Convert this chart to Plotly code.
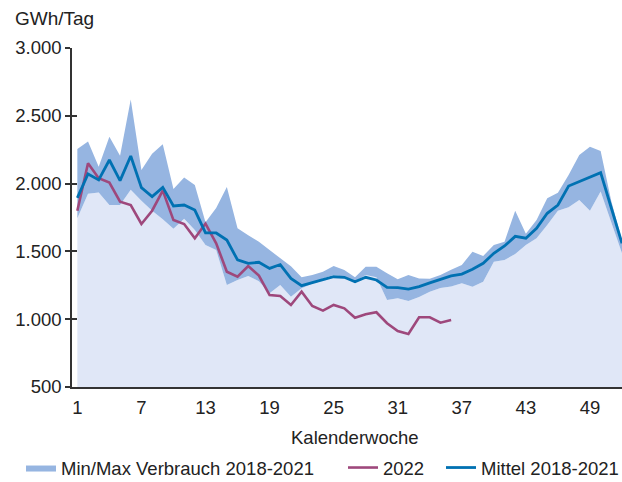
import plotly.graph_objects as go

weeks = list(range(1, 53))
min_vals = [1744, 1925, 1935, 1842, 1842, 1955, 1873, 1800, 1738, 1667,
            1740, 1658, 1547, 1510, 1252, 1289, 1318, 1280, 1191, 1252,
            1166, 1228, 1262, 1301, 1326, 1313, 1276, 1326, 1309, 1142,
            1154, 1135, 1163, 1203, 1230, 1242, 1265, 1240, 1276, 1424,
            1437, 1480, 1547, 1597, 1695, 1800, 1825, 1879, 1800, 1941,
            1713, 1486]
max_vals = [2255, 2310, 2125, 2345, 2205, 2620, 2100, 2220, 2290, 1960,
            2045, 1990, 1715, 1820, 1975, 1670, 1620, 1572, 1510, 1450,
            1390, 1310, 1326, 1350, 1392, 1363, 1309, 1387, 1387, 1338,
            1294, 1326, 1301, 1298, 1326, 1365, 1400, 1498, 1466, 1547,
            1572, 1800, 1630, 1731, 1892, 1933, 2063, 2211, 2272, 2240,
            1870, 1580]
mean_vals = [1895, 2071, 2027, 2174, 2022, 2204, 1970, 1904, 1972, 1835,
             1842, 1805, 1636, 1636, 1584, 1437, 1412, 1420, 1375, 1403,
             1301, 1247, 1270, 1289, 1313, 1309, 1276, 1309, 1289, 1235,
             1233, 1222, 1240, 1268, 1292, 1320, 1333, 1368, 1412, 1486,
             1540, 1611, 1597, 1670, 1781, 1842, 1982, 2014, 2051, 2081,
             1820, 1560]
weeks_2022 = list(range(1, 37))
vals_2022 = [1800, 2150, 2039, 2007, 1867, 1842, 1702, 1800, 1948, 1731,
             1702, 1597, 1705, 1560, 1350, 1313, 1392, 1322, 1178, 1171,
             1105, 1203, 1097, 1063, 1105, 1080, 1011, 1036, 1051, 970,
             913, 891, 1014, 1014, 974, 994]

x_ticks = [1, 7, 13, 19, 25, 31, 37, 43, 49]
y_ticks = [500, 1000, 1500, 2000, 2500, 3000]

LIGHT = "rgb(224,231,247)"
DARK = "rgb(150,181,225)"
MEAN_C = "rgb(0,113,178)"
C2022 = "rgb(158,72,124)"
AXIS_C = "#333333"
TEXT_C = "#222222"
FONT = "Liberation Sans, Arial, sans-serif"
W, H = 622, 482

fig = go.Figure()
fig.add_trace(go.Scatter(x=weeks, y=min_vals, mode="lines", fill="tozeroy",
                         fillcolor=LIGHT, line=dict(width=0, color=LIGHT),
                         showlegend=False, hoverinfo="skip"))
fig.add_trace(go.Scatter(x=weeks, y=max_vals, mode="lines", fill="tonexty",
                         fillcolor=DARK, line=dict(width=0, color=DARK),
                         name="Min/Max Verbrauch 2018-2021", legend="legend"))
fig.add_trace(go.Scatter(x=weeks_2022, y=vals_2022, mode="lines",
                         line=dict(width=2.6, color=C2022), name="2022",
                         legend="legend2"))
fig.add_trace(go.Scatter(x=weeks, y=mean_vals, mode="lines",
                         line=dict(width=2.8, color=MEAN_C), name="Mittel 2018-2021",
                         legend="legend3"))
# invisible trace so the overlay axis (inner half of the tick marks) is drawn
fig.add_trace(go.Scatter(x=[weeks[0]], y=[y_ticks[0]], yaxis="y2", mode="markers",
                         marker=dict(opacity=0), showlegend=False, hoverinfo="skip"))


def leg(x_px):
    return dict(orientation="h", xref="container", yref="container",
                x=x_px / W, xanchor="left", y=1 - 468 / H, yanchor="middle",
                font=dict(size=18.5, color=TEXT_C), bgcolor="rgba(0,0,0,0)",
                borderwidth=0, itemwidth=30)


fig.update_layout(
    width=W, height=H,
    margin=dict(l=72, r=0, t=48, b=95, autoexpand=False),
    paper_bgcolor="white", plot_bgcolor="white",
    separators=",.",
    font=dict(family=FONT, size=18.5, color=TEXT_C),
    xaxis=dict(range=[0.5, 52], tickvals=x_ticks, showgrid=False, zeroline=False,
               showline=True, linecolor=AXIS_C, linewidth=1.5, ticks="",
               tickfont=dict(size=18.5), automargin=False, ticklabelstandoff=3),
    yaxis=dict(range=[500, 3000], tickvals=y_ticks, tickformat=",.0f",
               showgrid=False, zeroline=False, showline=True, linecolor=AXIS_C,
               linewidth=1.5, ticks="outside", ticklen=5, tickwidth=1.5,
               tickcolor=AXIS_C, tickfont=dict(size=18.5), automargin=False),
    yaxis2=dict(range=[500, 3000], tickvals=y_ticks, overlaying="y", side="left",
                showgrid=False, zeroline=False, showline=False, ticks="inside",
                ticklen=5, tickwidth=1.5, tickcolor=AXIS_C, showticklabels=False,
                automargin=False),
    legend=leg(21),
    legend2=leg(343),
    legend3=leg(441),
    annotations=[
        dict(text="GWh/Tag", xref="paper", yref="paper",
             x=(13 - 72) / 550, y=(387 - 18) / 339, xanchor="left", yanchor="middle",
             showarrow=False, font=dict(size=19)),
        dict(text="Kalenderwoche", xref="paper", yref="paper",
             x=(355 - 72) / 550, y=(387 - 437) / 339, xanchor="center",
             yanchor="middle", showarrow=False, font=dict(size=18.5)),
    ],
)

fig.write_html("out.html", config={"displayModeBar": False},
               post_script="document.body.style.margin='0';")
